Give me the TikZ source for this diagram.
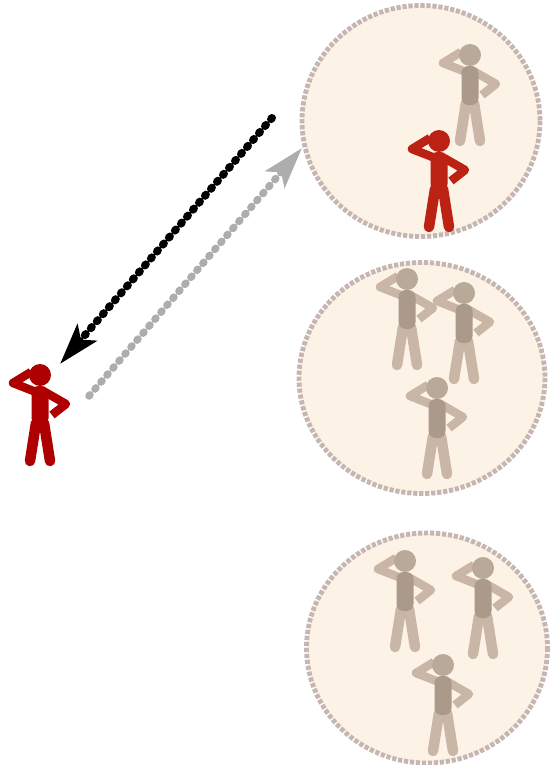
\documentclass[tikz,border=0pt]{standalone}
\usetikzlibrary{arrows.meta}
\definecolor{disc}{HTML}{FCF2E5}
\definecolor{rim}{HTML}{C6B6B2}
\definecolor{redA}{HTML}{AE0000}
\definecolor{redB}{HTML}{BC2214}
\definecolor{limbG}{HTML}{C9B6A6}
\definecolor{headG}{HTML}{B9A998}
\definecolor{bodyG}{HTML}{AB9A8A}
\tikzset{
  x=1pt,y=-1pt,
  crowd/.style={fill=disc,draw=rim,line width=4.8pt,dash pattern=on 4.2pt off 1.8pt},
  talk/.style={line width=8pt,line cap=round,dash pattern=on 1.5pt off 7.7pt},
  pics/person/.style n args={3}{code={
    \draw[#1,line width=8.5pt,line join=round] (-4,17) -- (-27,8) -- (-9,-3);
    \draw[#1,line width=8.5pt,line join=round] (5,17) -- (26,29) -- (12,40);
    \draw[#1,line width=10.5pt,line cap=round] (-4,48) -- (-10,86);
    \draw[#1,line width=10.5pt,line cap=round] (4,48) -- (10,86);
    \fill[#3,rounded corners=7pt] (-8.5,11) rectangle (8.5,50);
    \fill[#2] (0,0) circle[radius=11];
  }}
}
\begin{document}
\begin{tikzpicture}
\useasboundingbox (0,0) rectangle (549,765);
\fill[white] (0,0) rectangle (549,765);
\draw[crowd] (421,121) ellipse[x radius=119,y radius=115.5];
\draw[crowd] (422,378) ellipse[x radius=123,y radius=115.5];
\draw[crowd] (427,648) ellipse[x radius=120.5,y radius=115];
\pic at (470,55) {person={limbG}{headG}{bodyG}};
\pic at (439,141) {person={redB}{redB}{redB}};
\pic at (407,279) {person={limbG}{headG}{bodyG}};
\pic at (464,293) {person={limbG}{headG}{bodyG}};
\pic at (437,388) {person={limbG}{headG}{bodyG}};
\pic at (405,561) {person={limbG}{headG}{bodyG}};
\pic at (483,568) {person={limbG}{headG}{bodyG}};
\pic at (443,665) {person={limbG}{headG}{bodyG}};
\pic at (40,375) {person={redA}{redA}{redA}};
\coordinate (blackstart) at (272,118);
\coordinate (blackend) at (60,364);
\coordinate (greystart) at (89,396);
\coordinate (greyend) at (302,148);
\draw[talk,black,-{Stealth[length=41pt,width=25pt,inset=9pt]}] (blackstart) -- (blackend);
\draw[talk,line width=7.5pt,black!32,-{Stealth[length=41pt,width=25pt,inset=9pt]}] (greystart) -- (greyend);
\end{tikzpicture}
\end{document}
